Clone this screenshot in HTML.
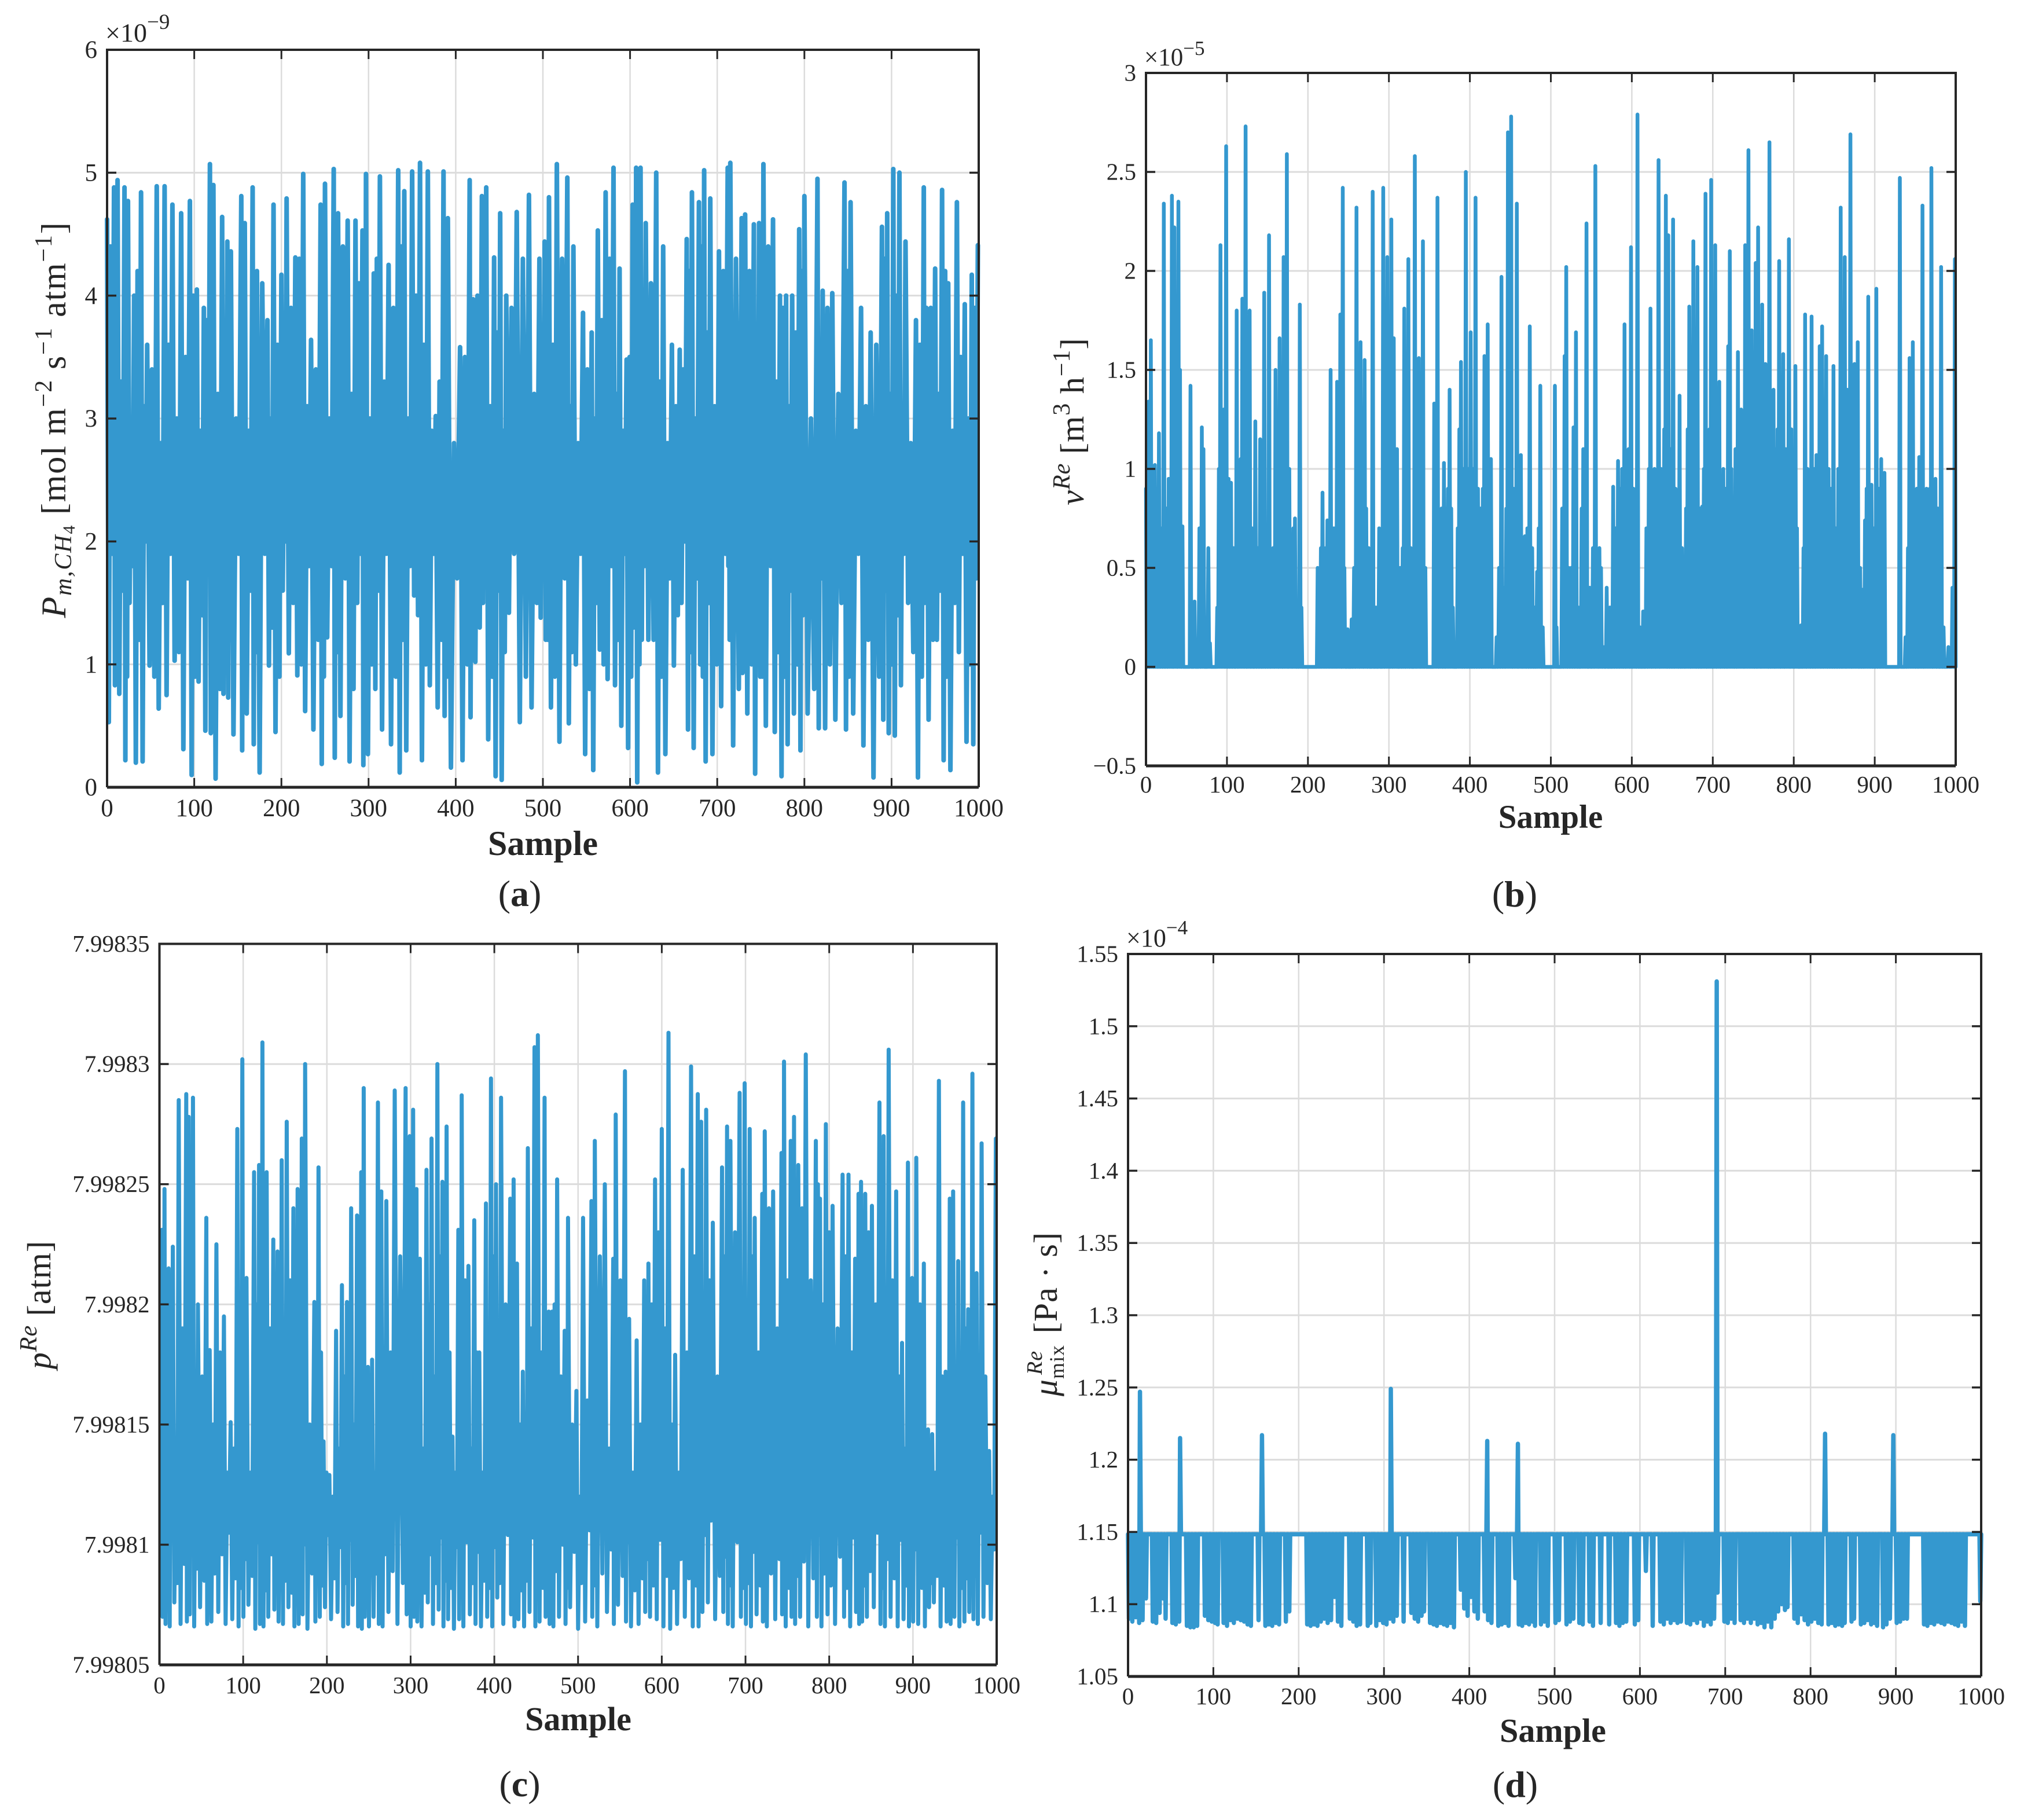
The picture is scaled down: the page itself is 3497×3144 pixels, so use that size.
<!DOCTYPE html>
<html lang="en">
<head>
<meta charset="utf-8">
<title>Four sample series panels</title>
<style>
html,body{margin:0;padding:0;background:#fff}
svg{display:block}
text{font-family:"Liberation Serif",serif;fill:#262626}
</style>
</head>
<body>
<svg id="figure" xmlns="http://www.w3.org/2000/svg" width="3497" height="3144" viewBox="0 0 3497 3144">
<rect width="3497" height="3144" fill="#ffffff"/>
<g id="panel-a"></g>
<g id="panel-b"></g>
<g id="panel-c"></g>
<g id="panel-d"></g>

<text transform="translate(113,725) rotate(-90)" text-anchor="middle" font-size="60" letter-spacing="1.8"><tspan font-style="italic">P</tspan><tspan font-style="italic" font-size="42" dy="10">m,CH</tspan><tspan font-size="30" dy="6">4</tspan><tspan dy="-16"> [mol m</tspan><tspan font-size="42" dy="-24">−2</tspan><tspan dy="24"> s</tspan><tspan font-size="42" dy="-24">−1</tspan><tspan dy="24"> atm</tspan><tspan font-size="42" dy="-24">−1</tspan><tspan dy="24">]</tspan></text>
<text transform="translate(1872,728) rotate(-90)" text-anchor="middle" font-size="58" letter-spacing="1"><tspan font-style="italic">v</tspan><tspan font-style="italic" font-size="42" dy="-24">Re</tspan><tspan dy="24"> [m</tspan><tspan font-size="42" dy="-24">3</tspan><tspan dy="24"> h</tspan><tspan font-size="42" dy="-24">−1</tspan><tspan dy="24">]</tspan></text>
<text transform="translate(87,2254) rotate(-90)" text-anchor="middle" font-size="58" letter-spacing="1"><tspan font-style="italic">p</tspan><tspan font-style="italic" font-size="42" dy="-24">Re</tspan><tspan dy="24"> [atm]</tspan></text>
<text transform="translate(1826,2270) rotate(-90)" text-anchor="middle" font-size="58" letter-spacing="1"><tspan font-style="italic">μ</tspan><tspan font-size="36" dy="12">mix</tspan><tspan font-style="italic" font-size="38" dy="-38" dx="-52">Re</tspan><tspan dy="26" dx="14"> [Pa · s]</tspan></text>

<text x="938" y="1477" text-anchor="middle" font-size="60" font-weight="bold">Sample</text>
<text x="2679" y="1430" text-anchor="middle" font-size="57" font-weight="bold">Sample</text>
<text x="999" y="2989" text-anchor="middle" font-size="58" font-weight="bold">Sample</text>
<text x="2683" y="3009" text-anchor="middle" font-size="58" font-weight="bold">Sample</text>

<text x="898" y="1565" text-anchor="middle" font-size="64">(<tspan font-weight="bold">a</tspan>)</text>
<text x="2617" y="1566" text-anchor="middle" font-size="64">(<tspan font-weight="bold">b</tspan>)</text>
<text x="898" y="3103" text-anchor="middle" font-size="64">(<tspan font-weight="bold">c</tspan>)</text>
<text x="2618" y="3104" text-anchor="middle" font-size="64">(<tspan font-weight="bold">d</tspan>)</text>

<text x="182" y="72" font-size="46">×10<tspan font-size="37" dy="-22">−9</tspan></text>
<text x="1977" y="113" font-size="43">×10<tspan font-size="35" dy="-18">−5</tspan></text>
<text x="1946" y="1635" font-size="44">×10<tspan font-size="35" dy="-21">−4</tspan></text>
</svg>

<script>
// Shared x axis
const xTickValues = [0,100,200,300,400,500,600,700,800,900,1000];
const xTickLabels = ["0","100","200","300","400","500","600","700","800","900","1000"];

// Panel (a): P_m,CH4 in units of 1e-9
const aYTickValues = [0,1,2,3,4,5,6];
const aYTickLabels = ["0","1","2","3","4","5","6"];
const aPeakSamples = [
0,8,12,20,24,31,39,46,57,66,
75,85,95,103,111,118,122,132,138,142,
154,158,167,172,184,191,200,206,216,225,
234,245,250,260,265,276,285,293,297,306,
313,323,334,341,350,359,368,377,386,391,
405,416,420,430,435,444,451,458,470,484,
496,502,507,516,528,535,546,556,563,572,
581,588,596,603,607,612,618,630,638,648,
657,665,671,679,685,692,702,712,715,728,
732,742,748,753,764,772,779,786,794,800,
815,821,832,846,853,865,876,889,895,902,
909,916,928,937,940,950,958,965,975,984,
992,999];
const aPeakValues = [
4.62,4.88,4.94,4.88,4.77,4.0,4.84,3.6,4.89,4.89,
4.74,4.67,4.77,4.05,3.9,5.07,4.9,4.64,4.44,4.36,
4.81,4.59,4.88,4.2,3.8,4.74,4.17,4.79,4.31,4.99,
3.64,4.74,4.91,5.03,4.67,4.61,4.61,4.53,4.99,4.18,
4.97,4.25,5.02,4.85,5.01,5.08,5.01,3.02,5.01,4.63,
3.58,4.94,3.97,4.81,4.88,4.31,4.67,4.0,4.68,4.82,
4.3,4.44,4.8,5.07,4.96,4.4,3.86,3.7,4.53,4.84,
5.04,4.22,3.48,4.74,5.04,5.04,4.59,5.0,4.4,3.6,
3.56,4.46,4.84,4.76,5.02,4.79,4.36,5.04,5.08,4.63,
4.66,4.58,4.59,5.07,4.62,4.0,4.0,4.0,4.54,4.81,
4.95,4.04,4.02,4.92,4.76,3.9,3.7,4.56,4.67,5.03,
5.0,4.44,3.8,4.88,3.9,4.22,4.86,4.1,4.76,3.93,
4.17,4.41];
const aTroughValues = [
.53,.83,.76,.22,1.5,.2,.21,.99,.64,.75,
1.03,.31,.1,.86,.46,.44,.07,.76,.73,.43,
.3,.6,.35,.12,.99,.45,1.6,1.09,.91,.62,
.47,.19,1.22,.24,.58,.21,1.5,.18,.27,.8,
.47,.35,.12,.3,1.56,.22,.83,.65,.58,.16,
.22,.57,1.02,1.5,.39,.09,.06,1.42,.53,.65,
1.38,1.2,.65,.37,.52,1.0,.27,.14,1.12,.88,
.83,.5,.32,1.3,.04,1.2,1.2,.12,.27,.99,
1.5,.47,.32,1.0,.21,.27,.66,1.8,.34,.93,
.6,.11,.9,.5,.45,.09,.35,.6,.3,.6,
.48,.48,.55,.47,.6,.34,.08,.55,.44,.42,
.83,1.5,.08,1.5,.55,1.2,.22,.14,1.1,.37,
.35,.35];
const aBumpValues = [
4.4,4.1,3.3,3.9,2.9,4.2,3.1,3.4,2.8,3.6,
3.0,3.5,4.0,2.9,3.8,4.3,3.2,3.7,4.2,3.0,
3.9,2.9,3.5,4.1,3.0,3.6,2.8,3.9,4.3,3.1,
3.4,4.2,3.0,3.7,4.4,3.2,4.1,3.8,3.0,4.3,
3.3,3.9,4.4,3.0,4.0,3.6,2.9,3.3,4.2,2.8,
3.5,3.0,4.0,4.4,3.1,3.7,2.9,3.9,4.3,3.2,
3.0,4.1,3.6,4.3,3.1,2.8,3.4,3.0,3.8,4.3,
3.2,2.9,3.5,4.2,3.0,3.8,4.1,3.3,2.8,3.1,
3.4,4.2,3.0,4.4,3.7,3.1,4.2,3.5,4.3,3.9,
4.2,3.2,4.0,4.4,3.3,3.9,3.1,3.7,4.2,3.0,
3.4,3.9,3.2,4.2,2.9,3.1,3.6,4.3,3.2,4.0,
3.1,2.8,3.6,3.0,3.9,3.2,4.2,2.9,3.5,3.0,
3.9,3.4];
const aLowValues = [
1.9,1.0,1.6,.9,1.8,1.2,2.0,.9,1.5,1.9,
1.1,1.7,.9,1.4,2.0,1.0,.8,1.7,1.2,1.9,
.9,1.6,1.1,1.9,1.3,.9,2.0,1.5,1.0,1.8,
1.2,.9,1.8,1.1,1.7,.8,1.9,1.3,1.0,1.6,
1.9,.9,1.2,1.8,1.4,1.0,1.9,1.2,.9,1.7,
1.0,1.8,1.3,2.0,.9,1.6,1.1,1.9,.9,1.5,
2.0,1.2,.9,1.7,1.1,1.9,.8,1.5,1.0,1.8,
1.2,1.9,.9,1.6,1.0,1.8,1.2,.9,1.7,1.4,
2.0,1.1,1.7,.9,1.5,1.0,1.9,1.2,.8,1.7,
1.0,1.5,.9,1.8,1.1,.9,1.6,1.0,1.4,.8,
1.7,1.0,1.5,.9,1.9,1.2,.9,1.6,1.0,1.4,
1.9,1.1,.9,1.8,1.2,1.6,.9,1.5,1.9,1.0,
1.7,1.1];

// Panel (b): v^Re in units of 1e-5; samples not listed sit at zero
const bYTickValues = [-0.5,0,0.5,1,1.5,2,2.5,3];
const bYTickLabels = ["−0.5","0","0.5","1","1.5","2","2.5","3"];
const bSamples = [
0,3,6,8,11,13,16,19,22,25,
28,30,32,35,37,40,42,45,55,60,
66,69,71,77,79,88,90,92,94,96,
99,102,105,108,112,115,117,119,121,123,
126,128,131,135,138,141,144,146,149,152,
155,157,160,162,165,167,170,172,174,177,
179,182,184,187,190,192,212,214,216,218,
220,222,224,226,228,230,232,234,236,238,
240,243,245,249,254,257,260,262,265,267,
270,272,275,280,284,288,293,296,298,300,
303,306,308,310,314,317,319,322,324,327,
332,335,337,340,342,345,356,358,360,363,
365,368,371,373,375,377,379,385,387,389,
392,395,398,401,404,407,410,413,416,418,
420,422,424,426,433,436,439,442,445,447,
449,451,454,456,458,461,463,466,468,471,
474,477,480,483,485,487,490,505,507,514,
517,519,522,525,528,531,534,538,540,542,
544,548,552,555,557,560,562,565,569,573,
577,580,583,586,588,591,594,596,599,602,
604,607,610,614,618,621,623,626,628,631,
633,636,638,640,642,645,648,651,654,656,
659,662,664,667,669,671,674,676,678,681,
684,687,689,691,694,696,698,701,703,706,
708,711,713,716,719,721,723,725,728,731,
733,735,737,740,742,744,746,748,750,753,
756,758,761,763,765,767,770,773,775,778,
780,782,785,787,790,792,794,797,799,802,
804,809,812,814,817,819,822,825,828,830,
832,835,838,840,843,846,849,852,855,858,
861,863,866,868,870,873,875,877,879,882,
885,888,890,892,894,896,899,902,905,908,
910,912,931,938,941,943,945,947,949,952,
955,957,959,962,964,966,968,970,973,975,
978,982,985,991,996,999];
const bValues = [
.9,1.34,1.65,.8,1.02,.9,1.18,.7,2.34,.8,
.95,.8,2.38,2.22,1.4,2.35,1.5,.71,1.42,.33,
.7,1.21,1.1,.6,.12,.3,1.0,2.13,.9,1.3,
2.63,.95,.93,.6,1.8,.9,1.05,1.86,.5,2.73,
.9,1.8,.7,1.24,.6,1.15,.3,1.89,.6,2.18,
.2,.6,1.5,1.0,1.66,1.0,2.07,1.2,2.59,1.0,
.6,.7,.75,.3,1.83,.3,.5,.4,.6,.88,
.5,.6,.74,.5,1.5,.6,.7,.5,1.44,.9,
1.78,2.42,.5,.19,.24,.5,2.32,.8,1.64,1.0,
1.55,.8,.6,2.4,.3,.7,2.42,.7,2.07,1.0,
2.26,1.66,.8,1.1,.5,.6,1.81,.8,2.06,.6,
2.58,.5,1.56,.5,2.15,.5,1.33,.8,2.37,.7,
.8,1.03,.8,.9,1.4,.8,.3,.7,1.2,1.54,
1.0,2.5,1.0,1.69,1.0,2.37,.9,.8,.9,1.57,
1.0,1.73,.8,1.05,.15,.5,1.97,.4,.8,2.7,
2.0,2.78,.9,.7,2.34,.8,1.07,.5,.66,.7,
1.72,.6,.3,.48,.7,1.42,.2,1.42,.2,.8,
1.57,2.02,.5,.5,1.21,1.69,.3,.8,1.1,.8,
2.24,.4,.6,2.53,.4,.6,.5,.1,.4,.3,
.91,.7,1.04,.9,1.0,1.73,1.0,1.1,2.12,.9,
.8,2.79,.2,.28,.7,1.0,1.81,.9,1.0,.9,
2.56,1.0,.7,1.2,2.38,2.18,1.1,2.26,.9,.6,
1.37,.6,.49,.8,1.2,1.82,1.0,2.15,1.0,2.02,
.8,.81,1.0,2.39,1.0,1.2,2.46,1.0,2.13,1.1,
1.44,.9,1.0,.9,1.62,2.1,1.0,.83,1.1,1.59,
1.2,1.3,1.27,2.13,1.3,2.61,1.4,1.7,1.5,2.04,
2.22,1.4,1.83,1.5,1.53,1.4,2.65,1.3,1.4,1.1,
1.2,2.05,1.2,1.58,1.1,1.0,2.16,1.2,1.0,1.52,
.7,.21,.6,1.78,1.0,.9,1.77,1.0,1.07,1.0,
1.62,1.72,1.2,1.57,1.0,.9,1.52,.7,1.0,2.32,
1.2,2.07,1.4,1.2,2.69,1.3,1.53,1.1,1.64,.5,
.39,.74,.9,1.87,.6,.92,.7,1.91,.9,1.05,
.8,.98,2.47,.15,.6,1.56,.8,1.64,.8,.9,
1.06,.9,2.33,.8,.9,.77,.9,2.52,.7,.95,
.8,2.02,.2,.1,.4,2.06];

// Panel (c): p^Re as 1e-5 atm above 7.998
const cYTickValues = [5,10,15,20,25,30,35];
const cYTickLabels = ["7.99805","7.9981","7.99815","7.9982","7.99825","7.9983","7.99835"];
const cPeakSamples = [
3,6,11,16,23,32,35,40,46,56,
60,68,77,85,93,99,104,113,119,123,
128,136,141,146,152,160,165,170,174,185,
190,196,203,211,218,224,229,236,241,244,
249,254,261,265,271,281,294,299,303,307,
311,319,325,332,338,343,350,357,361,369,
376,382,390,396,402,408,419,423,427,434,
440,448,452,460,465,469,475,484,488,498,
506,516,520,532,542,545,556,561,570,579,
584,592,600,608,616,625,635,643,647,653,
661,672,678,682,693,699,705,711,720,723,
733,743,746,754,758,763,772,784,789,796,
804,816,823,831,835,838,843,851,860,865,
871,880,887,894,899,904,913,918,923,931,
939,944,948,954,960,966,971,976,982,991,
999];
const cPeakValues = [
23.1,24.8,21.5,22.4,28.5,28.75,27.8,28.6,20,23.6,
18.1,22.5,19.5,15.1,27.3,30.2,21.1,25.5,25.8,30.9,
25.5,22.7,22.2,26,27.6,24,24.8,26.9,30,20.1,
25.7,14.3,12.9,18.9,20.8,20.1,24,23.7,25.5,29,
17.4,17.7,28.4,24.7,24.3,28.9,29,27,28.1,24.8,
21.9,25.6,26.9,30,25.1,27.4,14.5,23.1,28.7,21.6,
23.5,18,24.2,29.4,25,28.6,24.4,25.2,21.7,17.2,
26.5,30.7,31.2,28.6,19.7,19.7,25.2,18.9,23.6,16.4,
23.6,24.3,26.8,25,21.9,27.9,29.7,19.4,18.5,21,
21.7,25.2,27.3,31.3,17.9,25.6,29.9,28.75,27.6,28.1,
23.4,25.7,27.4,26.8,28.8,29.2,27.3,23.6,24.6,27.2,
24.7,26.3,30.1,26.8,27.8,25.8,30.4,26.8,24.4,27.5,
24.1,25.4,25.4,21.9,24.6,25.1,24.6,24.1,28.4,27,
30.6,24.7,18.4,25.9,21.1,26.1,21.7,14.8,14.6,29.3,
17.2,24.4,24.7,21.8,28.4,19.8,29.6,21.3,26.7,13.9,
26.9];
const cTroughValues = [
7.0,6.7,6.6,7.6,6.7,6.8,7.1,6.6,7.4,6.7,
6.8,7.2,6.7,6.9,6.6,7.0,7.5,6.5,6.7,6.6,
7.0,7.3,6.8,6.7,7.4,6.6,6.7,7.1,6.5,6.8,
7.0,7.4,6.9,7.2,6.6,6.7,7.5,6.6,6.5,7.0,
6.6,7.0,6.7,6.6,7.2,6.7,7.1,6.6,7.0,6.8,
6.6,7.6,6.7,7.3,6.6,6.9,6.5,6.9,6.6,7.1,
6.7,6.6,7.0,6.6,7.8,6.7,7.1,6.6,6.9,6.6,
7.2,6.6,6.8,7.0,6.7,6.6,7.0,6.7,7.4,6.5,
6.8,7.0,6.6,7.2,6.7,7.5,6.8,6.6,6.7,7.2,
7.0,6.9,6.6,6.5,6.7,7.0,6.6,6.6,7.2,7.6,
6.9,7.2,6.7,6.6,7.0,6.7,6.6,7.1,6.8,6.6,
6.9,7.1,6.6,7.0,6.7,7.0,6.6,7.0,6.6,7.1,
6.7,7.0,6.6,7.2,6.7,6.8,7.0,7.4,6.7,6.6,
7.0,6.6,6.9,6.6,6.8,6.7,6.6,7.4,7.6,6.6,
6.8,6.7,7.0,6.6,6.8,7.2,6.9,6.7,7.0,6.9,
7.0];
const cBumpValues = [
20,15,18,13,19,16,21,14,17,12,
15,18,13,14,19,16,13,20,17,14,
19,15,12,18,21,14,17,20,15,13,
18,13,12,14,17,20,15,19,22,16,
14,13,20,16,18,22,15,19,21,16,
14,20,17,22,15,18,13,16,21,14,
18,13,19,22,16,20,17,21,15,13,
19,23,18,16,14,20,17,13,15,12,
16,19,22,14,17,21,16,13,15,18,
20,23,19,15,13,18,22,19,16,21,
17,22,19,23,20,18,22,18,21,24,
19,24,21,25,22,24,21,25,20,23,
19,22,18,16,21,19,23,20,22,18,
21,17,14,19,16,20,14,12,13,17,
14,19,16,15,19,13,18,15,17,12,
18];
const cLowValues = [
9.8,8.2,10.4,8.4,9.2,8.7,10.0,9.0,8.5,10.2,
8.8,9.6,10.5,8.6,8.2,9.4,8.7,10.1,8.5,8.1,
9.6,8.9,10.3,8.5,8.0,9.7,8.4,10.0,8.8,9.5,
8.3,10.4,8.6,9.9,8.4,10.2,8.7,8.3,9.6,8.1,
10.1,8.8,8.3,9.6,8.9,8.4,10.2,8.7,9.5,8.3,
8.0,9.6,8.4,10.3,8.5,8.2,9.9,8.3,10.1,8.4,
9.7,8.5,8.2,9.9,8.4,10.4,8.3,9.7,8.1,8.5,
10.3,8.4,8.2,9.6,8.3,8.9,10.0,8.2,9.7,8.4,
10.6,8.3,8.8,9.8,8.5,8.7,10.1,8.1,8.6,9.4,
8.3,10.2,8.7,8.2,9.4,8.6,8.3,9.8,10.4,11.0,
8.7,9.5,8.3,10.1,8.2,8.4,9.7,8.3,10.4,8.8,
9.4,8.6,8.2,10.5,8.7,9.3,8.6,10.4,8.8,8.3,
9.5,8.2,10.3,8.4,9.6,8.3,8.9,10.5,8.2,9.4,
8.6,10.2,8.3,8.5,9.8,8.2,10.6,8.4,8.7,8.3,
9.5,8.9,10.3,8.2,8.6,9.3,8.7,10.5,8.4,9.8,
8.5];

// Panel (d): mu_mix^Re in units of 1e-4; samples not listed sit at the base level
const dYTickValues = [1.05,1.1,1.15,1.2,1.25,1.3,1.35,1.4,1.45,1.5,1.55];
const dYTickLabels = ["1.05","1.1","1.15","1.2","1.25","1.3","1.35","1.4","1.45","1.5","1.55"];
const dBaseLevel = 1.1484;
const dSpikeSamples = [14,61,157,308,421,457,690,817,897];
const dSpikeValues = [1.247,1.215,1.217,1.249,1.213,1.211,1.531,1.218,1.217];
const dDipSamples = [
1,5,9,13,17,21,29,33,37,41,
44,52,56,60,69,73,77,81,90,94,
98,102,105,112,116,120,124,128,132,136,
140,144,153,157,161,165,169,173,177,185,
189,210,214,218,222,226,230,234,238,242,
246,250,260,264,268,272,281,284,291,295,
299,303,307,311,315,323,332,336,340,344,
347,354,358,362,366,370,374,378,382,390,
394,398,402,406,410,418,422,426,434,438,
442,446,454,458,462,466,470,474,477,484,
488,492,501,505,514,518,522,529,533,541,
545,554,564,572,576,580,584,594,598,607,
615,624,628,632,636,640,644,648,655,659,
663,667,671,675,679,683,687,691,699,703,
707,711,718,722,726,730,734,738,742,746,
750,754,758,762,766,770,773,781,785,789,
793,797,801,805,809,813,817,821,825,829,
833,837,840,848,851,859,863,867,871,875,
878,885,889,893,897,901,905,909,913,933,
937,941,945,949,953,957,961,965,969,973,
977,981,999];
const dDipValues = [
1.09,1.088,1.091,1.087,1.089,1.104,1.088,1.087,1.094,1.104,
1.09,1.087,1.086,1.088,1.085,1.084,1.084,1.085,1.092,1.089,
1.088,1.087,1.086,1.087,1.085,1.089,1.087,1.09,1.089,1.088,
1.086,1.085,1.089,1.086,1.085,1.086,1.085,1.087,1.086,1.088,
1.095,1.086,1.085,1.086,1.085,1.088,1.09,1.087,1.089,1.105,
1.088,1.085,1.09,1.088,1.085,1.086,1.085,1.087,1.085,1.089,
1.087,1.086,1.09,1.088,1.092,1.088,1.094,1.09,1.088,1.092,
1.095,1.087,1.086,1.085,1.087,1.086,1.085,1.087,1.084,1.11,
1.097,1.092,1.105,1.095,1.09,1.095,1.089,1.087,1.085,1.086,
1.087,1.085,1.118,1.086,1.085,1.087,1.086,1.088,1.085,1.086,
1.088,1.085,1.087,1.089,1.086,1.088,1.09,1.087,1.086,1.088,
1.085,1.087,1.086,1.087,1.085,1.087,1.088,1.086,1.089,1.123,
1.085,1.088,1.086,1.09,1.087,1.089,1.087,1.088,1.087,1.086,
1.089,1.087,1.09,1.085,1.088,1.086,1.09,1.108,1.088,1.087,
1.09,1.087,1.089,1.087,1.09,1.087,1.09,1.086,1.087,1.084,
1.088,1.084,1.09,1.095,1.1,1.096,1.098,1.09,1.087,1.093,
1.089,1.086,1.088,1.09,1.087,1.086,1.085,1.086,1.087,1.085,
1.086,1.085,1.087,1.088,1.09,1.086,1.087,1.089,1.086,1.087,
1.085,1.084,1.086,1.09,1.088,1.087,1.088,1.09,1.09,1.086,
1.085,1.087,1.086,1.088,1.087,1.086,1.088,1.087,1.086,1.085,
1.088,1.085,1.102];

const NS = 'http://www.w3.org/2000/svg';
const SERIES_COLOR = '#3498cf';
const AXIS_COLOR = '#262626';
const GRID_COLOR = '#dcdcdc';

function mk(parent, tag, props) {
  const el = document.createElementNS(NS, tag);
  for (const k in props) el.setAttribute(k, props[k]);
  parent.appendChild(el);
  return el;
}

function peakSeries(samples, peaks, troughs, bumps, lows) {
  const pts = [];
  for (let i = 0; i < samples.length; i++) {
    pts.push([samples[i], peaks[i]]);
    if (i < samples.length - 1) {
      const gap = samples[i + 1] - samples[i];
      pts.push([samples[i] + gap / 4, troughs[i]]);
      pts.push([samples[i] + gap / 2, bumps[i]]);
      pts.push([samples[i] + 3 * gap / 4, lows[i]]);
    }
  }
  return pts;
}

function sparseSeries(base, samples, values) {
  const series = [];
  for (let s = 0; s <= 1000; s++) series.push(base);
  samples.forEach(function (s, i) { series[s] = values[i]; });
  return series.map(function (v, s) { return [s, v]; });
}

function seriesD() {
  const series = sparseSeries(dBaseLevel, dDipSamples, dDipValues);
  dSpikeSamples.forEach(function (s, i) { series[s] = [s, dSpikeValues[i]]; });
  return series;
}

function drawPanel(p, points) {
  const g = document.getElementById(p.id);
  const xs = function (v) { return p.x0 + (v - 0) / 1000 * (p.x1 - p.x0); };
  const ys = function (v) { return p.yBottom + (v - p.yMin) / (p.yMax - p.yMin) * (p.yTop - p.yBottom); };

  p.yTicks.forEach(function (v, i) {
    if (v !== p.yMin && v !== p.yMax) {
      const grid = mk(g, 'line', {x1: p.x0, x2: p.x1, y1: ys(v), y2: ys(v), stroke: GRID_COLOR, 'stroke-width': 3});
      
      
    }
  });
  xTickValues.forEach(function (v) {
    if (v !== 0 && v !== 1000) {
      const grid = mk(g, 'line', {x1: xs(v), x2: xs(v), y1: p.yTop, y2: p.yBottom, stroke: GRID_COLOR, 'stroke-width': 2.5});
      
      
    }
  });

  const line = mk(g, 'polyline', {
    points: points.map(function (d) { return xs(d[0]).toFixed(1) + ',' + ys(d[1]).toFixed(1); }).join(' '),
    fill: 'none', stroke: SERIES_COLOR, 'stroke-width': p.lineWidth, 'stroke-linejoin': 'round', 'stroke-linecap': 'round'
  });
  
  

  const tickLen = 16;
  xTickValues.forEach(function (v, i) {
    if (v !== 0 && v !== 1000) {
      const t1 = mk(g, 'line', {x1: xs(v), x2: xs(v), y1: p.yBottom, y2: p.yBottom - tickLen, stroke: AXIS_COLOR, 'stroke-width': 3});
      
      
      const t2 = mk(g, 'line', {x1: xs(v), x2: xs(v), y1: p.yTop, y2: p.yTop + tickLen, stroke: AXIS_COLOR, 'stroke-width': 3});
      
      
    }
    const label = mk(g, 'text', {x: xs(v), y: p.yBottom + p.xLabelOffset, 'text-anchor': 'middle', 'font-size': p.tickFont});
    label.textContent = xTickLabels[i];
    
    
  });
  p.yTicks.forEach(function (v, i) {
    if (v !== p.yMin && v !== p.yMax) {
      const t1 = mk(g, 'line', {x1: p.x0, x2: p.x0 + tickLen, y1: ys(v), y2: ys(v), stroke: AXIS_COLOR, 'stroke-width': 3.5});
      
      
      const t2 = mk(g, 'line', {x1: p.x1, x2: p.x1 - tickLen, y1: ys(v), y2: ys(v), stroke: AXIS_COLOR, 'stroke-width': 3.5});
      
      
    }
    const label = mk(g, 'text', {x: p.x0 - 17, y: ys(v) + p.tickFont * 0.33, 'text-anchor': 'end', 'font-size': p.tickFont});
    label.textContent = p.yLabels[i];
    
    
  });

  const frame = mk(g, 'path', {
    d: 'M' + p.x0 + ' ' + p.yBottom + 'V' + p.yTop + 'H' + p.x1 + 'V' + p.yBottom,
    fill: 'none', stroke: AXIS_COLOR, 'stroke-width': 4
  });
  
  
  const base = mk(g, 'line', {x1: p.x0, x2: p.x1, y1: p.yBottom, y2: p.yBottom, stroke: AXIS_COLOR, 'stroke-width': 5});
  
  
}

drawPanel({id: 'panel-a', x0: 185, x1: 1691, yTop: 86, yBottom: 1360, yMin: 0, yMax: 6,
  yTicks: aYTickValues, yLabels: aYTickLabels, tickFont: 43, xLabelOffset: 50, lineWidth: 8},
  peakSeries(aPeakSamples, aPeakValues, aTroughValues, aBumpValues, aLowValues));

drawPanel({id: 'panel-b', x0: 1980, x1: 3379, yTop: 126, yBottom: 1323, yMin: -0.5, yMax: 3,
  yTicks: bYTickValues, yLabels: bYTickLabels, tickFont: 41, xLabelOffset: 46, lineWidth: 6.5},
  sparseSeries(0, bSamples, bValues));

drawPanel({id: 'panel-c', x0: 275.5, x1: 1722, yTop: 1630.5, yBottom: 2876, yMin: 5, yMax: 35,
  yTicks: cYTickValues, yLabels: cYTickLabels, tickFont: 41, xLabelOffset: 49, lineWidth: 7},
  peakSeries(cPeakSamples, cPeakValues, cTroughValues, cBumpValues, cLowValues));

drawPanel({id: 'panel-d', x0: 1949, x1: 3423, yTop: 1648, yBottom: 2896, yMin: 1.05, yMax: 1.55,
  yTicks: dYTickValues, yLabels: dYTickLabels, tickFont: 41, xLabelOffset: 48, lineWidth: 7.5},
  seriesD());
</script>
</body>
</html>
